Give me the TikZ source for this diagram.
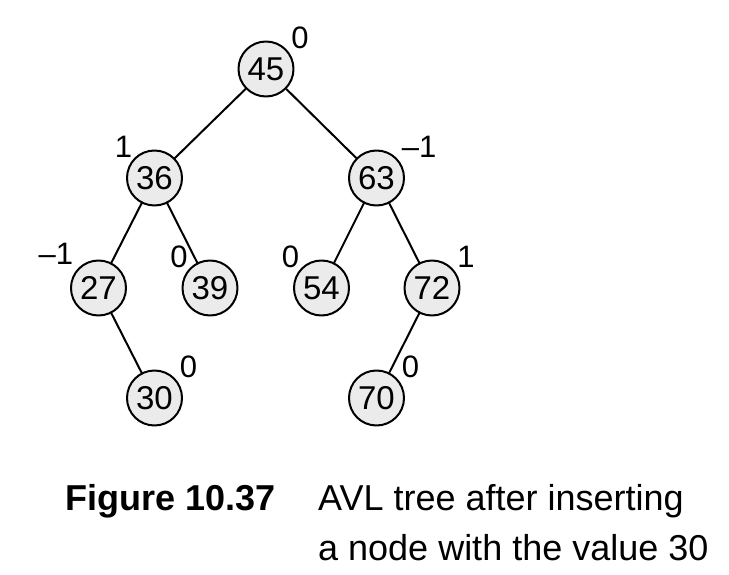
\documentclass[tikz,border=0pt]{standalone}
\usepackage{fontspec}
\setmainfont{Liberation Sans}
\begin{document}
\begin{tikzpicture}[x=1pt, y=1pt, line join=round, line cap=round,
	key/.style={circle, draw, line width=2pt, fill=gray!16, minimum size=55pt, inner sep=0pt, font=\fontsize{33}{33}\selectfont},
	balr/.style={inner sep=0pt, xshift=5pt, font=\fontsize{31}{31}\selectfont},
	ball/.style={inner sep=0pt, xshift=-2pt, font=\fontsize{31}{31}\selectfont},
	capt/.style={anchor=base west, inner sep=0pt, font=\fontsize{36}{36}\selectfont}]
			\useasboundingbox (0,0) rectangle (729,-575);
			\path 
			(266,-69) node[key, label={[balr]45:0}] (n45) {45}
			(154.5,-178) node[key, label={[ball]135:1}] (n36) {36}
			(376.5,-178) node[key, label={[balr]45:\textendash 1}] (n63) {63}
			(98.5,-288) node[key, label={[ball, xshift=-3pt, yshift=3pt]135:\textendash 1}] (n27) {27}
			(210,-288) node[key, label={[ball]135:0}] (n39) {39}
			(321.5,-288) node[key, label={[ball]135:0}] (n54) {54}
			(432,-288) node[key, label={[balr]45:1}] (n72) {72}
			(154.5,-398) node[key, label={[balr]45:0}] (n30) {30}
			(376.5,-398) node[key, label={[balr]45:0}] (n70) {70};
			\foreach \a/\b in {n45/n36,n45/n63,n36/n27,n36/n39,n63/n54,n63/n72,n27/n30,n72/n70}{\draw[line width=2pt](\a)--(\b);}
			\node[capt, font=\fontsize{36}{36}\selectfont\bfseries] (fig) at (65,-510) {Figure 10.37};
			\node[capt] (cap1) at (318,-510) {AVL tree after inserting};
			\node[capt] (cap2) at (318,-560) {a node with the value 30};
	\end{tikzpicture}
\end{document}
